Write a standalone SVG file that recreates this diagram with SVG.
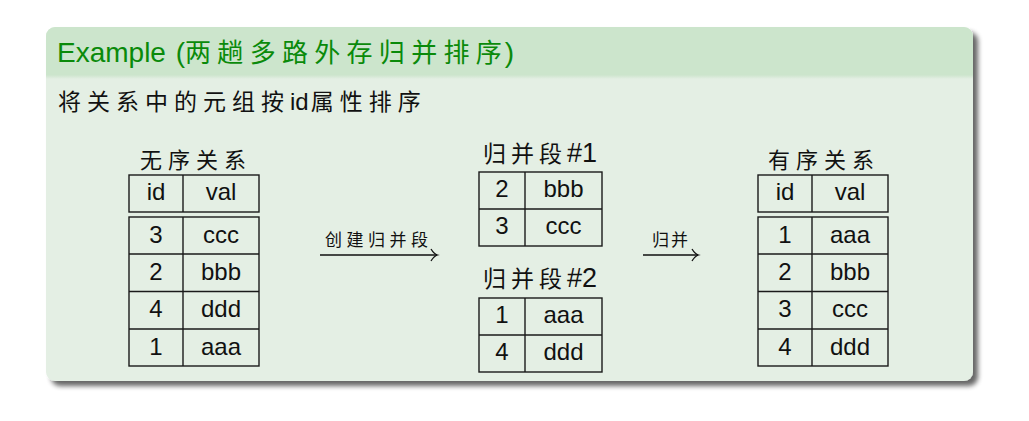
<svg xmlns="http://www.w3.org/2000/svg" width="1029" height="421" viewBox="0 0 1029 421">
<defs>
<filter id="shadow" x="-5%" y="-5%" width="112%" height="115%">
<feGaussianBlur in="SourceAlpha" stdDeviation="2.5"/>
<feOffset dx="5" dy="5" result="b"/>
<feComponentTransfer><feFuncA type="linear" slope="0.6"/></feComponentTransfer>
<feMerge><feMergeNode/><feMergeNode in="SourceGraphic"/></feMerge>
</filter>
<linearGradient id="fade" x1="0" y1="0" x2="0" y2="1">
<stop offset="0" stop-color="#cde5cd"/>
<stop offset="1" stop-color="#e4efe4"/>
</linearGradient>
<clipPath id="boxclip"><rect x="46" y="27" width="927" height="354" rx="9"/></clipPath>
</defs>
<style>
.cell{fill:none;stroke:#1a1a1a;stroke-width:1.4}
.t{font-family:"Liberation Sans",Arial,sans-serif;font-size:24px;fill:#111;text-anchor:middle}
.cjk{font-family:"Noto Sans CJK SC","Noto Sans",sans-serif;fill:#111}
.lat{font-family:"Liberation Sans",Arial,sans-serif;fill:#111}
.conn{fill:none;stroke:#111;stroke-width:1.3}
</style>
<rect width="1029" height="421" fill="#ffffff"/>
<g id="block">
<rect x="46" y="27" width="927" height="354" rx="9" fill="#e4efe4" filter="url(#shadow)"/>
<g clip-path="url(#boxclip)">
<rect x="46" y="27" width="927" height="48" fill="#cce5cc"/>
<rect x="46" y="75" width="927" height="4" fill="url(#fade)"/>
</g>
<text x="57" y="62" font-family="Liberation Sans,Arial,sans-serif" font-size="28" fill="#0a8a0a">Example <tspan dx="2">(</tspan><tspan font-family="Noto Sans CJK SC,sans-serif" font-size="26" letter-spacing="6.3">两趟多路外存归并排</tspan><tspan font-family="Noto Sans CJK SC,sans-serif" font-size="26">序</tspan><tspan dx="3">)</tspan></text>
<text x="58" y="110" font-size="23"><tspan class="cjk" letter-spacing="6">将关系中的元组按</tspan><tspan class="lat" font-size="24">id</tspan><tspan class="cjk" dx="2" letter-spacing="6">属性排序</tspan></text>
</g>
<g id="unsorted">
<text x="140" y="168" class="cjk" font-size="22" letter-spacing="6">无序关系</text>
<rect class="cell" x="129" y="175" width="130" height="37"/>
<line class="cell" x1="183" y1="175" x2="183" y2="212"/>
<rect class="cell" x="129" y="217" width="130" height="149"/>
<line class="cell" x1="183" y1="217" x2="183" y2="366"/>
<line class="cell" x1="129" y1="254" x2="259" y2="254"/>
<line class="cell" x1="129" y1="291.5" x2="259" y2="291.5"/>
<line class="cell" x1="129" y1="329" x2="259" y2="329"/>
<text class="t" x="156" y="200">id</text><text class="t" x="221" y="200">val</text>
<text class="t" x="156" y="243">3</text><text class="t" x="221" y="243">ccc</text>
<text class="t" x="156" y="280">2</text><text class="t" x="221" y="280">bbb</text>
<text class="t" x="156" y="317">4</text><text class="t" x="221" y="317">ddd</text>
<text class="t" x="156" y="355">1</text><text class="t" x="221" y="355">aaa</text>
</g>
<g id="run1">
<text x="483" y="162" font-size="23"><tspan class="cjk" letter-spacing="5">归并段</tspan><tspan class="lat" font-size="27">#1</tspan></text>
<rect class="cell" x="479" y="172" width="123" height="74"/>
<line class="cell" x1="525" y1="172" x2="525" y2="246"/>
<line class="cell" x1="479" y1="209" x2="602" y2="209"/>
<text class="t" x="502" y="197">2</text><text class="t" x="563.5" y="197">bbb</text>
<text class="t" x="502" y="234">3</text><text class="t" x="563.5" y="234">ccc</text>
</g>
<g id="run2">
<text x="483" y="287" font-size="23"><tspan class="cjk" letter-spacing="5">归并段</tspan><tspan class="lat" font-size="27">#2</tspan></text>
<rect class="cell" x="479" y="298" width="123" height="74"/>
<line class="cell" x1="525" y1="298" x2="525" y2="372"/>
<line class="cell" x1="479" y1="335" x2="602" y2="335"/>
<text class="t" x="502" y="323">1</text><text class="t" x="563.5" y="323">aaa</text>
<text class="t" x="502" y="360">4</text><text class="t" x="563.5" y="360">ddd</text>
</g>
<g id="sorted">
<text x="768" y="168" class="cjk" font-size="22" letter-spacing="6">有序关系</text>
<rect class="cell" x="758" y="175" width="130" height="37"/>
<line class="cell" x1="812" y1="175" x2="812" y2="212"/>
<rect class="cell" x="758" y="217" width="130" height="149"/>
<line class="cell" x1="812" y1="217" x2="812" y2="366"/>
<line class="cell" x1="758" y1="254" x2="888" y2="254"/>
<line class="cell" x1="758" y1="291.5" x2="888" y2="291.5"/>
<line class="cell" x1="758" y1="329" x2="888" y2="329"/>
<text class="t" x="785" y="200">id</text><text class="t" x="850" y="200">val</text>
<text class="t" x="785" y="243">1</text><text class="t" x="850" y="243">aaa</text>
<text class="t" x="785" y="280">2</text><text class="t" x="850" y="280">bbb</text>
<text class="t" x="785" y="317">3</text><text class="t" x="850" y="317">ccc</text>
<text class="t" x="785" y="355">4</text><text class="t" x="850" y="355">ddd</text>
</g>
<g id="connectors">
<line class="conn" x1="320" y1="255" x2="437" y2="255"/>
<path class="conn" d="M431,249 Q434,254 437.5,255 Q434,256 431,261"/>
<text x="325" y="246" class="cjk" font-size="17" letter-spacing="4.5">创建归并段</text>
<line class="conn" x1="643" y1="255" x2="698" y2="255"/>
<path class="conn" d="M692,249 Q695,254 698.5,255 Q695,256 692,261"/>
<text x="652" y="246" class="cjk" font-size="17" letter-spacing="2">归并</text>
</g>
</svg>
